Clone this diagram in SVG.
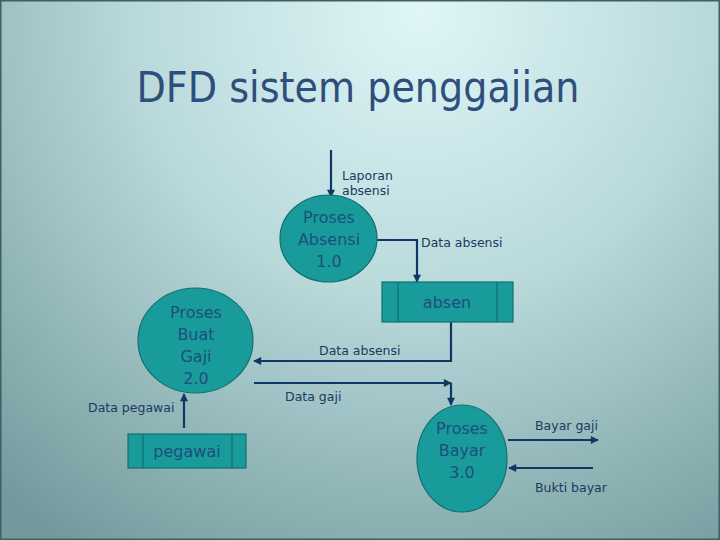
<svg xmlns="http://www.w3.org/2000/svg" width="720" height="540" viewBox="0 0 720 540">
<defs>
<radialGradient id="bg" cx="420" cy="10" r="640" gradientUnits="userSpaceOnUse">
<stop offset="0" stop-color="#e0f6f8"/>
<stop offset="0.45" stop-color="#b9d9db"/>
<stop offset="1" stop-color="#729a9c"/>
</radialGradient>
<marker id="ah" viewBox="0 0 10 10" refX="9" refY="5" markerWidth="9" markerHeight="8" orient="auto" markerUnits="userSpaceOnUse">
<path d="M0,0 L10,5 L0,10 z" fill="#0f3766"/>
</marker>
<style>
.proc{fill:#1a9b9b;stroke:#12706f;stroke-width:1.2}
.store{fill:#1a9b9b;stroke:#12706f;stroke-width:1.2}
.nt{font-family:"DejaVu Sans",sans-serif;font-size:16px;fill:#1c4f7d;text-anchor:middle}
.lbl{font-family:"DejaVu Sans",sans-serif;font-size:12.5px;fill:#1b3a5e}
.flow{fill:none;stroke:#0f3766;stroke-width:2.2;marker-end:url(#ah)}
</style>
</defs>
<rect x="0" y="0" width="720" height="540" fill="url(#bg)"/>
<rect x="0.75" y="0.75" width="718.5" height="538.5" fill="none" stroke="#3f5f63" stroke-width="1.5"/>
<text x="358" y="102" font-family="DejaVu Sans,sans-serif" font-size="42" fill="#2e4f7c" text-anchor="middle" textLength="443" lengthAdjust="spacingAndGlyphs">DFD sistem penggajian</text>

<g id="connectors">
<path class="flow" d="M331,150 V197"/>
<path class="flow" d="M377,240 H417 V282"/>
<path class="flow" d="M451,322 V361 H254"/>
<path class="flow" d="M254,383 H451"/>
<path class="flow" d="M451,383 V405"/>
<path class="flow" d="M184,428 V394"/>
<path class="flow" d="M508,440 H598"/>
<path class="flow" d="M593,468 H509"/>
<text class="lbl" x="342" y="180">Laporan</text>
<text class="lbl" x="342" y="195">absensi</text>
<text class="lbl" x="421" y="247">Data absensi</text>
<text class="lbl" x="319" y="355">Data absensi</text>
<text class="lbl" x="285" y="401">Data gaji</text>
<text class="lbl" x="88" y="412">Data pegawai</text>
<text class="lbl" x="535" y="430">Bayar gaji</text>
<text class="lbl" x="535" y="492">Bukti bayar</text>
</g>

<g id="p1">
<ellipse class="proc" cx="328.5" cy="238.5" rx="48.5" ry="43.5"/>
<text class="nt" x="329" y="223">Proses</text>
<text class="nt" x="329" y="245">Absensi</text>
<text class="nt" x="329" y="267">1.0</text>
</g>
<g id="p2">
<ellipse class="proc" cx="195.5" cy="340.5" rx="57.5" ry="52.5"/>
<text class="nt" x="196" y="318">Proses</text>
<text class="nt" x="196" y="340">Buat</text>
<text class="nt" x="196" y="362">Gaji</text>
<text class="nt" x="196" y="384">2.0</text>
</g>
<g id="p3">
<ellipse class="proc" cx="462" cy="458.5" rx="45" ry="53.5"/>
<text class="nt" x="462" y="434">Proses</text>
<text class="nt" x="462" y="456">Bayar</text>
<text class="nt" x="462" y="478">3.0</text>
</g>
<g id="absen">
<rect class="store" x="382" y="282" width="131" height="40"/>
<line class="store" x1="398" y1="282" x2="398" y2="322"/>
<line class="store" x1="497" y1="282" x2="497" y2="322"/>
<text class="nt" x="447" y="308">absen</text>
</g>
<g id="pegawai">
<rect class="store" x="128" y="434" width="118" height="34"/>
<line class="store" x1="143" y1="434" x2="143" y2="468"/>
<line class="store" x1="232" y1="434" x2="232" y2="468"/>
<text class="nt" x="187" y="457">pegawai</text>
</g>
</svg>
